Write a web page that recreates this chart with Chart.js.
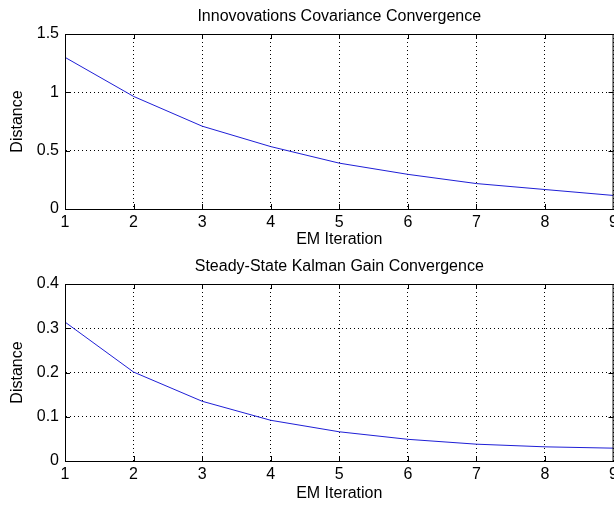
<!DOCTYPE html>
<html>
<head>
<meta charset="utf-8">
<script src="https://cdn.jsdelivr.net/npm/chart.js@4"></script>
<style>
  html, body { margin: 0; background: #fff; overflow: hidden; }
  .plot { position: absolute; left: 0; width: 622px; height: 253px; }
</style>
</head>
<body>
<div class="plot" style="top:0"><canvas id="covChart"></canvas></div>
<div class="plot" style="top:253px"><canvas id="gainChart"></canvas></div>
<script>
const iterations = [1, 2, 3, 4, 5, 6, 7, 8, 9];
const covDistance = [1.30, 0.965, 0.71, 0.535, 0.393, 0.297, 0.218, 0.167, 0.116];
const gainDistance = [0.314, 0.201, 0.135, 0.092, 0.066, 0.049, 0.038, 0.032, 0.029];
const covTicks = [0, 0.5, 1, 1.5];
const gainTicks = [0, 0.1, 0.2, 0.3, 0.4];

const font = "'Liberation Sans', Arial, sans-serif";

// MATLAB-like closed box with small inward tick marks, title centred over the axes
const boxPlugin = {
  id: "box",
  afterDraw(chart, args, opts) {
    const { ctx, chartArea: a, scales } = chart;
    const len = 5;
    ctx.save();
    ctx.strokeStyle = "#000";
    ctx.lineWidth = 1;
    ctx.strokeRect(a.left + 0.5, a.top + 0.5, a.right - a.left - 1, a.bottom - a.top);
    ctx.beginPath();
    scales.x.ticks.forEach((t) => {
      const px = Math.round(scales.x.getPixelForValue(t.value)) + 0.5;
      ctx.moveTo(px, a.bottom);
      ctx.lineTo(px, a.bottom - len);
      ctx.moveTo(px, a.top);
      ctx.lineTo(px, a.top + len);
    });
    scales.y.ticks.forEach((t) => {
      const py = Math.round(scales.y.getPixelForValue(t.value)) + 0.5;
      ctx.moveTo(a.left, py);
      ctx.lineTo(a.left + len, py);
      ctx.moveTo(a.right, py);
      ctx.lineTo(a.right - len, py);
    });
    ctx.stroke();

    ctx.fillStyle = "#000";
    ctx.font = "16px " + font;
    ctx.textAlign = "center";
    ctx.textBaseline = "middle";
    ctx.fillText(opts.text, (a.left + a.right) / 2, a.top - opts.gap);
    ctx.restore();
  },
};

function makeChart(id, title, values, yTicks, opts) {
  const yMax = yTicks[yTicks.length - 1];
  return new Chart(document.getElementById(id), {
    type: "line",
    data: {
      datasets: [
        {
          data: iterations.map((x, i) => ({ x: x, y: values[i] })),
          borderColor: "#1f1fd6",
          borderWidth: 1,
          pointRadius: 0,
          tension: 0,
          fill: false,
        },
      ],
    },
    options: {
      responsive: true,
      maintainAspectRatio: false,
      animation: false,
      layout: { autoPadding: false, padding: { left: 0, right: 0, top: opts.top, bottom: 0 } },
      plugins: {
        legend: { display: false },
        tooltip: { enabled: false },
        box: { text: title, gap: 17 },
      },
      scales: {
        x: {
          type: "linear",
          min: 1,
          max: 9,
          afterFit: (s) => { s.height = opts.xHeight; },
          grid: { color: "#000", drawTicks: false, lineWidth: 1 },
          border: { display: true, color: "#000", dash: [1, 3] },
          ticks: {
            stepSize: 1,
            padding: 4,
            color: "#000",
            font: { family: font, size: 16 },
          },
          title: {
            display: true,
            text: "EM Iteration",
            color: "#000",
            font: { family: font, size: 16, lineHeight: 1.2 },
            padding: { top: 0, bottom: opts.xTitleBottom },
          },
        },
        y: {
          min: 0,
          max: yMax,
          afterFit: (s) => { s.width = 65; },
          afterBuildTicks: (s) => { s.ticks = yTicks.map((v) => ({ value: v })); },
          grid: { color: "#000", drawTicks: false, lineWidth: 1 },
          border: { display: true, color: "#000", dash: [1, 3] },
          ticks: {
            padding: 6,
            color: "#000",
            font: { family: font, size: 16 },
            callback: (v) => String(+v.toFixed(2)),
          },
          title: {
            display: true,
            text: "Distance",
            color: "#000",
            font: { family: font, size: 16, lineHeight: 1.2 },
            padding: { top: 8, bottom: 0 },
          },
        },
      },
    },
    plugins: [boxPlugin],
  });
}

makeChart("covChart", "Innovovations Covariance Convergence", covDistance, covTicks, {
  top: 34, xHeight: 44, xTitleBottom: 4,
});
makeChart("gainChart", "Steady-State Kalman Gain Convergence", gainDistance, gainTicks, {
  top: 31, xHeight: 45, xTitleBottom: 3,
});
</script>
</body>
</html>
